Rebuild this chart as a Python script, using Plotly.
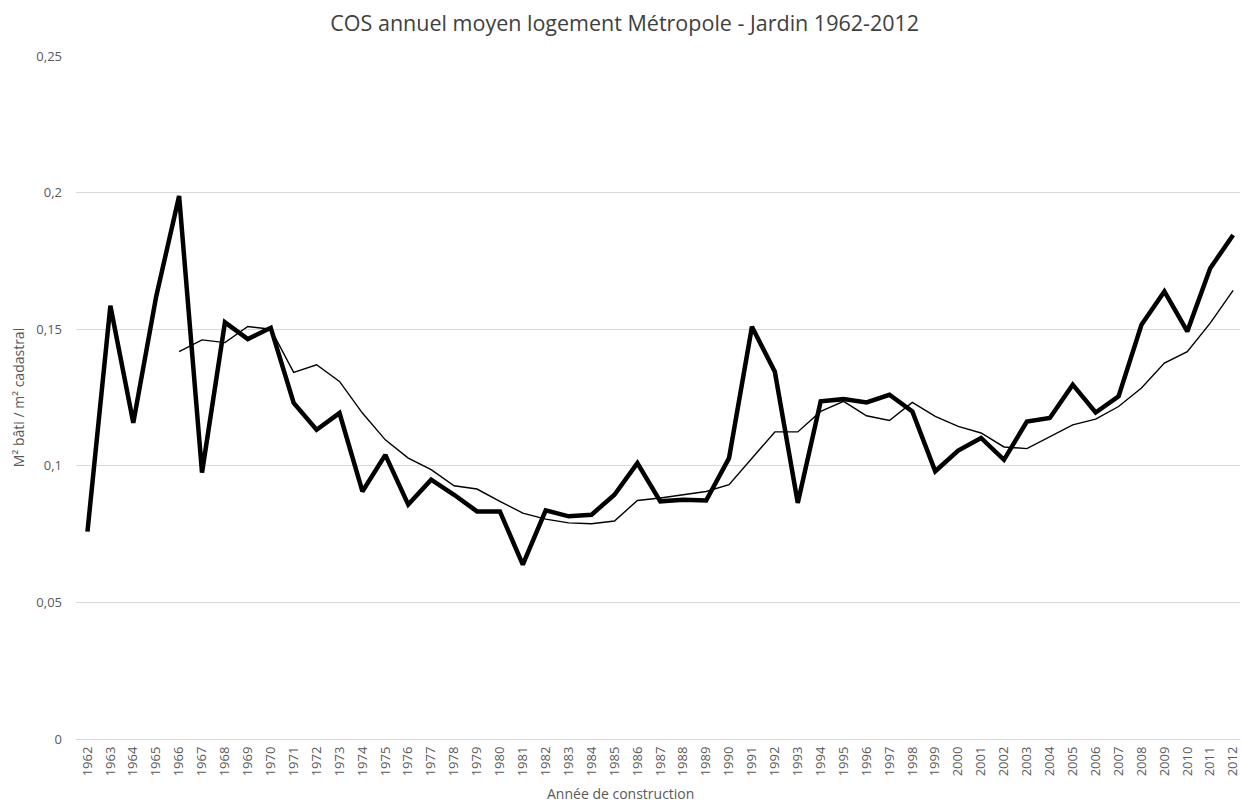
import plotly.graph_objects as go

years = [str(y) for y in range(1962, 2013)]

cos_annuel = [0.0759, 0.1586, 0.1157, 0.1620, 0.1988, 0.0975, 0.1525, 0.1464, 0.1505, 0.1230,
              0.1132, 0.1193, 0.0906, 0.1040, 0.0858, 0.0949, 0.0894, 0.0833, 0.0833, 0.0638,
              0.0837, 0.0815, 0.0821, 0.0894, 0.1010, 0.0870, 0.0876, 0.0873, 0.1028, 0.1509,
              0.1344, 0.0864, 0.1236, 0.1244, 0.1232, 0.1260, 0.1199, 0.0980, 0.1056, 0.1102,
              0.1022, 0.1162, 0.1175, 0.1297, 0.1195, 0.1254, 0.1516, 0.1638, 0.1492, 0.1723,
              0.1845]

moyenne_mobile = [None, None, None, None, 0.1418, 0.1461, 0.1451, 0.1510, 0.1500, 0.1342,
                  0.1370, 0.1309, 0.1193, 0.1095, 0.1028, 0.0986, 0.0927, 0.0915, 0.0870, 0.0827,
                  0.0805, 0.0791, 0.0788, 0.0798, 0.0873, 0.0882, 0.0894, 0.0906, 0.0931, 0.1028,
                  0.1124, 0.1124, 0.1199, 0.1236, 0.1183, 0.1166, 0.1232, 0.1181, 0.1144, 0.1120,
                  0.1069, 0.1063, 0.1105, 0.1150, 0.1171, 0.1217, 0.1285, 0.1376, 0.1418, 0.1522,
                  0.1642]

y_tickvals = [0, 0.05, 0.1, 0.15, 0.2, 0.25]
y_ticktext = ["0", "0,05", "0,1", "0,15", "0,2", "0,25"]

FONT = "Open Sans"
GREY = "#595959"

fig = go.Figure()
fig.add_trace(go.Scatter(x=years, y=cos_annuel, mode="lines",
                         line=dict(color="black", width=4.5), showlegend=False))
fig.add_trace(go.Scatter(x=years, y=moyenne_mobile, mode="lines",
                         line=dict(color="black", width=1.4), showlegend=False,
                         connectgaps=False))

fig.update_layout(
    width=1242, height=805,
    margin=dict(l=76, r=2, t=56, b=66),
    paper_bgcolor="white", plot_bgcolor="white",
    font=dict(family=FONT, color=GREY, size=13),
    title=dict(text="COS annuel moyen logement Métropole - Jardin 1962-2012",
               x=0.503, xanchor="center", y=0.9714, yanchor="middle",
               font=dict(family=FONT, size=21.5, color="#404040")),
    xaxis=dict(type="category", range=[-0.5, 50.3], tickangle=-90,
               showgrid=False, showline=False, zeroline=False, ticks="",
               automargin=False, ticklabelstandoff=4,
               tickfont=dict(size=13, color=GREY)),
    yaxis=dict(range=[0, 0.25], tickvals=y_tickvals, ticktext=y_ticktext,
               showgrid=True, gridcolor="#d9d9d9", gridwidth=1,
               zeroline=True, zerolinecolor="#d9d9d9", zerolinewidth=1,
               showline=False, ticks="", ticklabelstandoff=13,
               automargin=False,
               tickfont=dict(size=13, color=GREY),
               title=dict(text="M² bâti / m² cadastral", standoff=8,
                          font=dict(size=14, color=GREY))),
    annotations=[dict(text="Année de construction", xref="paper", yref="paper",
                      x=(620 - 76) / (1242 - 76 - 2), y=-(793 - 739) / (805 - 56 - 66),
                      xanchor="center", yanchor="middle", showarrow=False,
                      font=dict(family=FONT, size=14, color=GREY))],
)

fig.write_html("out.html", config={"displayModeBar": False},
               post_script="document.body.style.margin='0';document.body.style.overflow='hidden';")
